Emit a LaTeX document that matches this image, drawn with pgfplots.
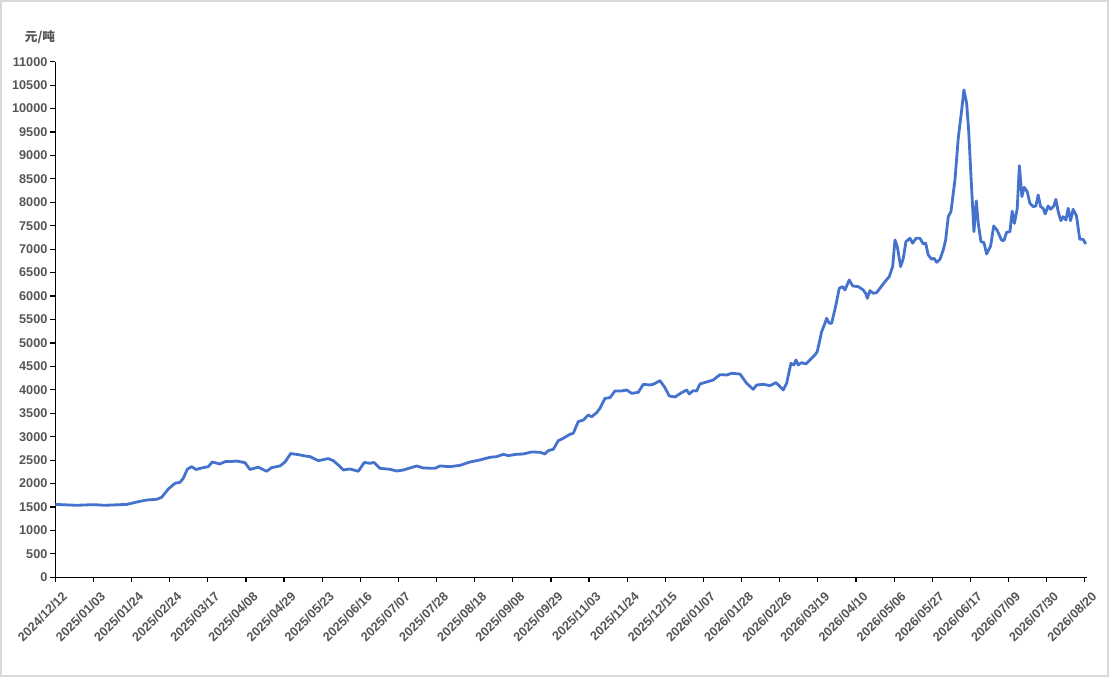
\documentclass[border=0pt]{standalone}
\usepackage{fontspec}
\setmainfont{Liberation Sans}
\newfontfamily\cjk{Noto Sans CJK SC}
\usepackage{pgfplots}
\pgfplotsset{compat=1.18}
\definecolor{lineblue}{RGB}{68,114,204}
\definecolor{lblgray}{RGB}{85,85,85}
\pgfplotstableread{
u v
0.000 1555
0.561 1536
0.997 1550
1.303 1536
1.873 1555
2.177 1613
2.397 1649
2.659 1664
2.790 1707
2.964 1884
3.139 2005
3.270 2026
3.357 2112
3.462 2305
3.577 2360
3.690 2300
3.881 2339
4.013 2360
4.117 2460
4.319 2418
4.450 2467
4.668 2474
4.757 2480
4.975 2446
5.106 2300
5.324 2350
5.544 2262
5.675 2340
5.893 2375
6.024 2460
6.174 2640
6.373 2617
6.549 2589
6.680 2575
6.898 2488
7.073 2518
7.160 2532
7.291 2488
7.422 2396
7.553 2289
7.729 2311
7.947 2262
8.104 2450
8.253 2432
8.358 2450
8.516 2325
8.778 2304
8.953 2268
9.127 2289
9.478 2375
9.651 2332
9.958 2325
10.089 2375
10.351 2360
10.614 2389
10.876 2460
11.138 2503
11.400 2560
11.576 2574
11.749 2624
11.880 2596
12.101 2624
12.274 2631
12.494 2674
12.712 2667
12.843 2631
12.930 2702
13.061 2730
13.192 2915
13.323 2966
13.499 3051
13.585 3072
13.716 3320
13.847 3355
13.979 3463
14.068 3427
14.199 3512
14.285 3605
14.417 3818
14.548 3832
14.679 3975
14.854 3975
14.985 3996
15.117 3925
15.290 3946
15.421 4117
15.597 4103
15.683 4117
15.859 4195
15.990 4046
16.103 3868
16.253 3847
16.428 3939
16.559 3996
16.627 3911
16.732 3982
16.821 3975
16.908 4124
17.084 4167
17.257 4210
17.433 4323
17.609 4316
17.739 4352
17.957 4337
18.133 4138
18.306 4010
18.395 4103
18.568 4117
18.744 4089
18.901 4153
19.093 3996
19.182 4139
19.295 4566
19.373 4530
19.426 4636
19.486 4530
19.575 4580
19.688 4551
19.793 4636
19.924 4743
19.984 4814
20.100 5240
20.186 5419
20.231 5525
20.299 5419
20.362 5419
20.474 5810
20.561 6166
20.650 6201
20.711 6130
20.823 6343
20.913 6215
21.060 6201
21.191 6130
21.262 6045
21.296 5952
21.367 6116
21.453 6059
21.542 6073
21.629 6166
21.760 6308
21.873 6414
21.962 6628
22.023 7197
22.083 7055
22.172 6628
22.241 6806
22.311 7161
22.416 7232
22.487 7126
22.573 7232
22.678 7232
22.765 7112
22.828 7126
22.896 6877
22.985 6785
23.046 6806
23.116 6720
23.203 6784
23.289 6983
23.352 7197
23.421 7694
23.491 7801
23.596 8477
23.683 9367
23.772 9970
23.832 10397
23.903 10113
23.955 9544
24.008 8690
24.094 7374
24.155 8030
24.207 7552
24.278 7160
24.357 7140
24.427 6898
24.532 7069
24.613 7496
24.705 7400
24.820 7190
24.881 7183
24.951 7360
25.038 7374
25.098 7810
25.155 7550
25.229 7860
25.286 8780
25.352 8121
25.412 8320
25.491 8228
25.562 7979
25.648 7908
25.719 7922
25.779 8157
25.842 7908
25.910 7872
25.963 7752
26.041 7922
26.104 7851
26.190 7922
26.243 8064
26.304 7801
26.374 7609
26.435 7694
26.506 7623
26.566 7872
26.629 7609
26.694 7851
26.784 7708
26.870 7210
26.957 7210
27.028 7111
}\pricedata
\begin{document}
\begin{tikzpicture}
\draw[black!15, line width=1.2pt] (-40.875pt,-74.175pt) rectangle (789.675pt,432.375pt);
\path[use as bounding box] (-41.475pt,-74.775pt) rectangle (790.275pt,432.975pt);
\begin{axis}[
  at={(0,0)}, anchor=south west,
  scale only axis,
  width=773.5pt, height=386.7pt,
  xmin=0, xmax=27.05,
  ymin=0, ymax=11000,
  axis lines=left,
  axis line style={-, black, line width=0.9pt},
  tick align=outside,
  major tick length=3.75pt,
  tick style={black, line width=0.9pt},
  xtick={0,1,...,27},
  xticklabels={2024/12/12,2025/01/03,2025/01/24,2025/02/24,2025/03/17,2025/04/08,2025/04/29,2025/05/23,2025/06/16,2025/07/07,2025/07/28,2025/08/18,2025/09/08,2025/09/29,2025/11/03,2025/11/24,2025/12/15,2026/01/07,2026/01/28,2026/02/26,2026/03/19,2026/04/10,2026/05/06,2026/05/27,2026/06/17,2026/07/09,2026/07/30,2026/08/20},
  ytick={0,500,...,11000},
  scaled y ticks=false,
  scaled x ticks=false,
  /pgf/number format/assume math mode=true,
  /pgf/number format/fixed,
  /pgf/number format/1000 sep={},
  ticklabel style={font=\fontsize{9.5}{10}\selectfont\bfseries, text=lblgray},
  xticklabel style={rotate=45, anchor=north east, inner sep=1pt, xshift=0pt, yshift=-6.5pt},
  yticklabel style={inner sep=1pt, xshift=-1pt},
  clip=false,
]
\addplot[lineblue, line width=2.1pt, line join=round] table[x=u, y=v] {\pricedata};
\node[font=\cjk\fontsize{9.5}{10}\selectfont\bfseries, text=lblgray] at (axis description cs:-0.0148,1.048) {元/吨};
\end{axis}
\end{tikzpicture}
\end{document}
